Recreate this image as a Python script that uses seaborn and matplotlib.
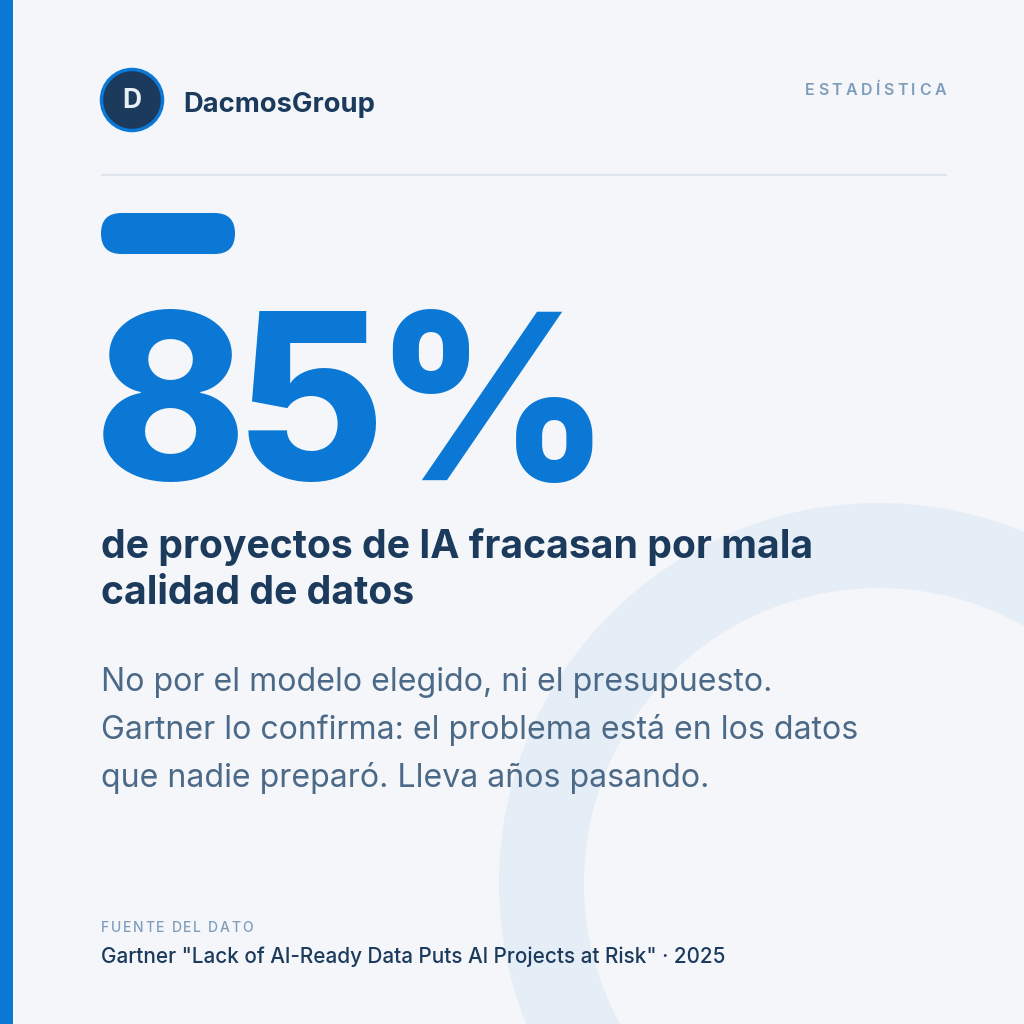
import matplotlib
matplotlib.use("Agg")
import matplotlib.pyplot as plt
import seaborn as sns
from matplotlib.patches import Circle, FancyBboxPatch, Rectangle
from matplotlib.font_manager import FontProperties

# Content of the card
brand = "DacmosGroup"
brand_initial = "D"
category = "ESTADÍSTICA"
stat_value = 85
stat_unit = "%"
headline_lines = ["de proyectos de IA fracasan por mala", "calidad de datos"]
body_lines = [
    "No por el modelo elegido, ni el presupuesto.",
    "Gartner lo confirma: el problema está en los datos",
    "que nadie preparó. Lleva años pasando.",
]
source_label = "FUENTE DEL DATO"
source_text = 'Gartner "Lack of AI-Ready Data Puts AI Projects at Risk" · 2025'

# Colours
BG = "#F4F6FA"
BLUE = "#0A78D4"
NAVY = "#1B3A5C"
SLATE = "#4C6A88"
MUTED = "#7F9DBB"
RING = "#E5EDF6"
RULE = "#DFE5ED"

sns.set_theme(style="white")
plt.rcParams["font.family"] = ["Inter", "DejaVu Sans"]

fig = plt.figure(figsize=(10.24, 10.24), dpi=100, facecolor=BG)
ax = fig.add_axes([0, 0, 1, 1])
ax.set_xlim(0, 1024)
ax.set_ylim(1024, 0)
ax.set_aspect("equal")
ax.axis("off")
ax.set_facecolor(BG)

renderer = fig.canvas.get_renderer()


def spaced_text(x, y, s, size, color, weight, tracking, ha="left"):
    # matplotlib has no letter-spacing, so place chars one by one
    prop = FontProperties(family=["Inter", "DejaVu Sans"], size=size, weight=weight)
    widths = [renderer.get_text_width_height_descent(c, prop, ismath=False)[0] for c in s]
    total = sum(widths) + tracking * (len(s) - 1)
    cx = x - total if ha == "right" else x
    for c, w in zip(s, widths):
        ax.text(cx, y, c, fontproperties=prop, color=color, va="baseline", ha="left")
        cx += w + tracking


# background ring
ax.add_patch(Circle((879, 883), 337.5, fill=False, lw=85 * 0.72, ec=RING, zorder=0))

# left accent bar
ax.add_patch(Rectangle((0, 0), 13, 1024, color=BLUE, lw=0, zorder=5))

# header
ax.add_patch(Circle((132, 100), 30.5, fc=NAVY, ec=BLUE, lw=2.5, zorder=3))
ax.text(132, 101, brand_initial, ha="center", va="center", color="#E9EFF6",
        fontsize=19, fontweight="bold", zorder=4)
ax.text(183, 111.5, brand, ha="left", va="baseline", color=NAVY,
        fontsize=19.7, fontweight="bold")
spaced_text(946, 95, category, 11.5, MUTED, "semibold", 3.5, ha="right")
ax.plot([101, 947], [175, 175], color=RULE, lw=1.6, solid_capstyle="butt")

# blue pill
ax.add_patch(FancyBboxPatch((101, 213), 134, 41,
                            boxstyle="round,pad=0,rounding_size=20.5",
                            fc=BLUE, ec="none"))

# big number, slightly tight tracking
spaced_text(94, 480, f"{stat_value}{stat_unit}", 166, BLUE, "heavy", -12)

# headline
for i, line in enumerate(headline_lines):
    ax.text(101, 558 + 46 * i, line, ha="left", va="baseline", color=NAVY,
            fontsize=28.2, fontweight="bold")

# body
for i, line in enumerate(body_lines):
    ax.text(101, 691 + 48 * i, line, ha="left", va="baseline", color=SLATE,
            fontsize=23.1)

# source
spaced_text(101, 932, source_label, 10.0, MUTED, "medium", 1.7)
ax.text(101, 963, source_text, ha="left", va="baseline", color=NAVY,
        fontsize=14.9, fontweight="medium")

fig.savefig("out.png", dpi=100, facecolor=BG)
